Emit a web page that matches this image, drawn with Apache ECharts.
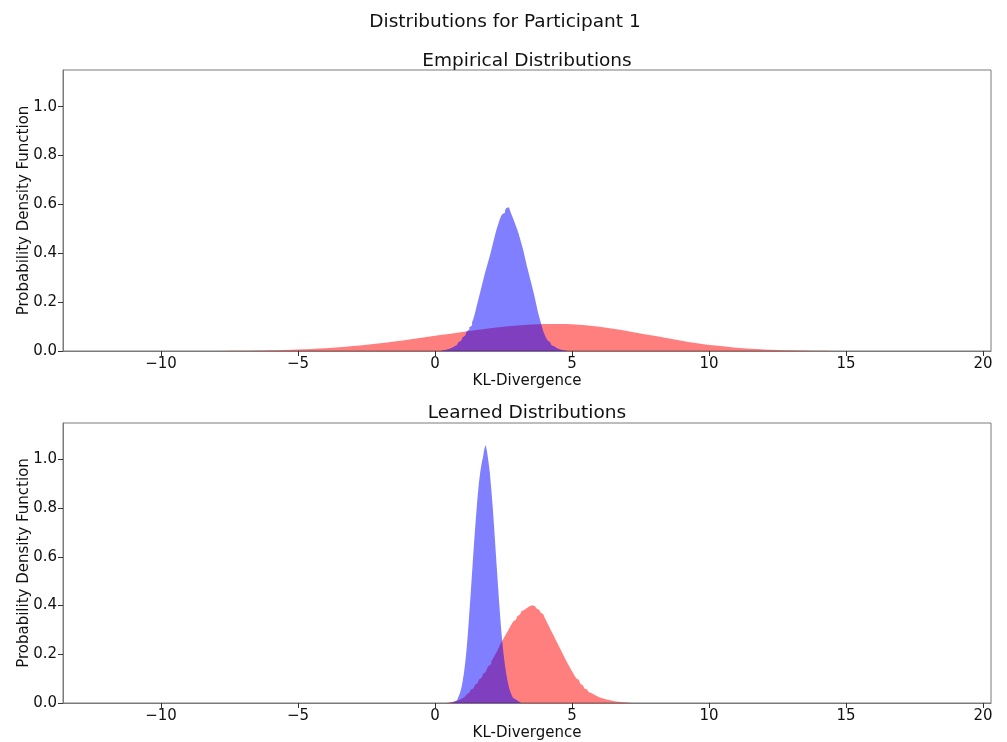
<!DOCTYPE html>
<html>
<head>
<meta charset="utf-8">
<script src="https://cdn.jsdelivr.net/npm/echarts@6/dist/echarts.min.js"></script>
<style>
  html, body { margin: 0; padding: 0; background: #fff; }
  #chart { width: 1007px; height: 742px; }
</style>
</head>
<body>
<div id="chart"></div>
<script>
// ---- Data ----
const xTicks = [-10, -5, 0, 5, 10, 15, 20];
const yTicks = [0, 0.2, 0.4, 0.6, 0.8, 1.0];

// Empirical: red (broad) histogram, bins of 0.25 starting at -8
const empRedStart = -8;
const empRedWidth = 0.25;
const empRed = [
  0.0005, 0.0007, 0.0008, 0.001, 0.0013, 0.0017, 0.002, 0.0026,
  0.0032, 0.004, 0.0048, 0.0058, 0.007, 0.0083, 0.0098, 0.0115,
  0.0134, 0.0155, 0.0178, 0.0203, 0.023, 0.026, 0.029, 0.032,
  0.035, 0.039, 0.042, 0.046, 0.05, 0.054, 0.058, 0.062,
  0.066, 0.07, 0.074, 0.078, 0.082, 0.086, 0.089, 0.093,
  0.096, 0.099, 0.102, 0.104, 0.106, 0.108, 0.109, 0.110,
  0.111, 0.111, 0.110, 0.109, 0.107, 0.105, 0.102, 0.099,
  0.095, 0.091, 0.087, 0.082, 0.077, 0.072, 0.067, 0.062,
  0.057, 0.052, 0.047, 0.042, 0.037, 0.033, 0.029, 0.025,
  0.022, 0.019, 0.016, 0.0135, 0.0113, 0.0094, 0.0078, 0.0064,
  0.0052, 0.0042, 0.0034, 0.0027, 0.0021, 0.0016, 0.0012, 0.0009,
  0.0007, 0.0005, 0.0004, 0.0003, 0.0002, 0.0001, 0.0001, 0.0001
];

// Empirical: blue (peaked) histogram, bins of 0.05 starting at 0.2
const empBlueStart = 0.2;
const empBlueWidth = 0.05;
const empBlue = [
  0.002, 0.003, 0.004, 0.005, 0.006, 0.008, 0.009, 0.012, 0.015, 0.018,
  0.021, 0.025, 0.030, 0.036, 0.042, 0.049, 0.055, 0.063, 0.071, 0.080,
  0.088, 0.097, 0.104, 0.118, 0.132, 0.152, 0.175, 0.198, 0.22, 0.242,
  0.265, 0.287, 0.31, 0.33, 0.35, 0.37, 0.39, 0.412, 0.435, 0.457,
  0.48, 0.50, 0.518, 0.535, 0.55, 0.56, 0.566, 0.575, 0.585, 0.588,
  0.58, 0.57, 0.556, 0.542, 0.527, 0.512, 0.497, 0.48, 0.46, 0.44,
  0.42, 0.397, 0.372, 0.348, 0.326, 0.304, 0.282, 0.26, 0.237, 0.213,
  0.187, 0.162, 0.14, 0.12, 0.10, 0.08, 0.066, 0.054, 0.044, 0.036,
  0.03, 0.024, 0.019, 0.015, 0.011, 0.009, 0.007, 0.005, 0.004, 0.003,
  0.002, 0.002, 0.001, 0.001
];

// Learned: blue histogram, bins of 0.05 starting at 0.5
const lrnBlueStart = 0.5;
const lrnBlueWidth = 0.05;
const lrnBlue = [
  0.001, 0.002, 0.003, 0.005, 0.007, 0.010, 0.015, 0.025, 0.038, 0.058,
  0.085, 0.12, 0.165, 0.22, 0.29, 0.37, 0.45, 0.535, 0.62, 0.70,
  0.775, 0.845, 0.905, 0.95, 0.985, 1.01, 1.045, 1.06, 1.03, 0.99,
  0.945, 0.88, 0.81, 0.73, 0.645, 0.56, 0.475, 0.395, 0.32, 0.255,
  0.2, 0.155, 0.118, 0.088, 0.063, 0.045, 0.031, 0.021, 0.014, 0.009,
  0.006, 0.004, 0.002, 0.001
];

// Learned: red histogram, bins of 0.05 starting at 0.4
const lrnRedStart = 0.4;
const lrnRedWidth = 0.05;
const lrnRed = [
  0.002, 0.002, 0.003, 0.003, 0.004, 0.006, 0.007, 0.009, 0.011, 0.013,
  0.016, 0.020, 0.023, 0.027, 0.032, 0.036, 0.042, 0.048, 0.054, 0.060,
  0.067, 0.074, 0.081, 0.089, 0.097, 0.104, 0.112, 0.119, 0.127, 0.135,
  0.143, 0.152, 0.16, 0.17, 0.18, 0.19, 0.20, 0.211, 0.222, 0.234,
  0.245, 0.256, 0.265, 0.275, 0.285, 0.295, 0.305, 0.315, 0.325, 0.335,
  0.342, 0.35, 0.356, 0.363, 0.37, 0.377, 0.382, 0.388, 0.39, 0.394,
  0.397, 0.399, 0.401, 0.399, 0.397, 0.393, 0.388, 0.383, 0.378, 0.372,
  0.365, 0.358, 0.35, 0.34, 0.328, 0.317, 0.305, 0.294, 0.283, 0.272,
  0.26, 0.249, 0.238, 0.227, 0.216, 0.204, 0.193, 0.182, 0.17, 0.16,
  0.15, 0.14, 0.13, 0.12, 0.111, 0.102, 0.094, 0.086, 0.079, 0.072,
  0.066, 0.06, 0.055, 0.05, 0.045, 0.041, 0.038, 0.035, 0.032, 0.029,
  0.026, 0.024, 0.022, 0.02, 0.018, 0.016, 0.015, 0.013, 0.012, 0.011,
  0.0095, 0.0085, 0.0075, 0.0065, 0.0055, 0.005, 0.0045, 0.004, 0.0033, 0.0028,
  0.0023, 0.0019, 0.0016, 0.0013, 0.001, 0.0008, 0.0005
];

// ---- Build histogram step outlines from bin edges ----
function histPoints(start, width, values) {
  const pts = [[start, 0]];
  values.forEach((v, i) => pts.push([start + i * width, v]));
  pts.push([start + values.length * width, 0]);
  return pts;
}

const FONT = 'DejaVu Sans';
const AXIS_COLOR = '#7a7a7a';
const TEXT_COLOR = '#111';

function xAxisCfg(gridIndex) {
  return {
    type: 'value', gridIndex,
    min: -13.58, max: 20.29,
    name: 'KL-Divergence', nameLocation: 'middle', nameGap: 23, nameMoveOverlap: false,
    nameTextStyle: { fontFamily: FONT, fontSize: 15, color: TEXT_COLOR },
    axisLine: { show: true, onZero: false, lineStyle: { color: AXIS_COLOR, width: 1 } },
    axisTick: { show: true, length: 5, customValues: xTicks, lineStyle: { color: '#333' } },
    axisLabel: {
      customValues: xTicks, margin: 6,
      fontFamily: FONT, fontSize: 15, color: TEXT_COLOR,
      formatter: v => (v < 0 ? '\u2212' + Math.abs(v) : String(v))
    },
    splitLine: { show: false }
  };
}
function yAxisCfg(gridIndex) {
  return {
    type: 'value', gridIndex,
    min: 0, max: 1.15,
    name: 'Probability Density Function', nameLocation: 'middle', nameGap: 31, nameMoveOverlap: false,
    nameTextStyle: { fontFamily: FONT, fontSize: 15, color: TEXT_COLOR },
    axisLine: { show: true, onZero: false, lineStyle: { color: AXIS_COLOR, width: 1 } },
    axisTick: { show: true, length: 5, customValues: yTicks, lineStyle: { color: '#333' } },
    axisLabel: {
      customValues: yTicks, margin: 6,
      fontFamily: FONT, fontSize: 15, color: TEXT_COLOR,
      formatter: v => v.toFixed(1)
    },
    splitLine: { show: false }
  };
}
function histSeries(idx, pts, color) {
  return {
    type: 'line', xAxisIndex: idx, yAxisIndex: idx,
    data: pts, step: 'end', showSymbol: false, symbol: 'none',
    lineStyle: { width: 0, opacity: 0 },
    areaStyle: { color: color, opacity: 1, origin: 'start' },
    silent: true, animation: false
  };
}

const chart = echarts.init(document.getElementById('chart'), null, { renderer: 'canvas' });
chart.setOption({
  backgroundColor: '#ffffff',
  animation: false,
  title: [
    { text: 'Distributions for Participant 1', left: 505, top: 13, textAlign: 'center', padding: 0,
      textStyle: { fontFamily: FONT, fontSize: 18.5, fontWeight: 'normal', color: TEXT_COLOR } },
    { text: 'Empirical Distributions', left: 527, top: 52, textAlign: 'center', padding: 0,
      textStyle: { fontFamily: FONT, fontSize: 18.5, fontWeight: 'normal', color: TEXT_COLOR } },
    { text: 'Learned Distributions', left: 527, top: 404, textAlign: 'center', padding: 0,
      textStyle: { fontFamily: FONT, fontSize: 18.5, fontWeight: 'normal', color: TEXT_COLOR } }
  ],
  grid: [
    { left: 63, right: 16, top: 70, height: 281, show: true, borderColor: AXIS_COLOR, borderWidth: 1, backgroundColor: 'transparent' },
    { left: 63, right: 16, top: 423, height: 281, show: true, borderColor: AXIS_COLOR, borderWidth: 1, backgroundColor: 'transparent' }
  ],
  xAxis: [xAxisCfg(0), xAxisCfg(1)],
  yAxis: [yAxisCfg(0), yAxisCfg(1)],
  series: [
    histSeries(0, histPoints(empRedStart, empRedWidth, empRed), 'rgba(255,0,0,0.5)'),
    histSeries(0, histPoints(empBlueStart, empBlueWidth, empBlue), 'rgba(0,0,255,0.5)'),
    histSeries(1, histPoints(lrnRedStart, lrnRedWidth, lrnRed), 'rgba(255,0,0,0.5)'),
    histSeries(1, histPoints(lrnBlueStart, lrnBlueWidth, lrnBlue), 'rgba(0,0,255,0.5)')
  ]
});
</script>
</body>
</html>
